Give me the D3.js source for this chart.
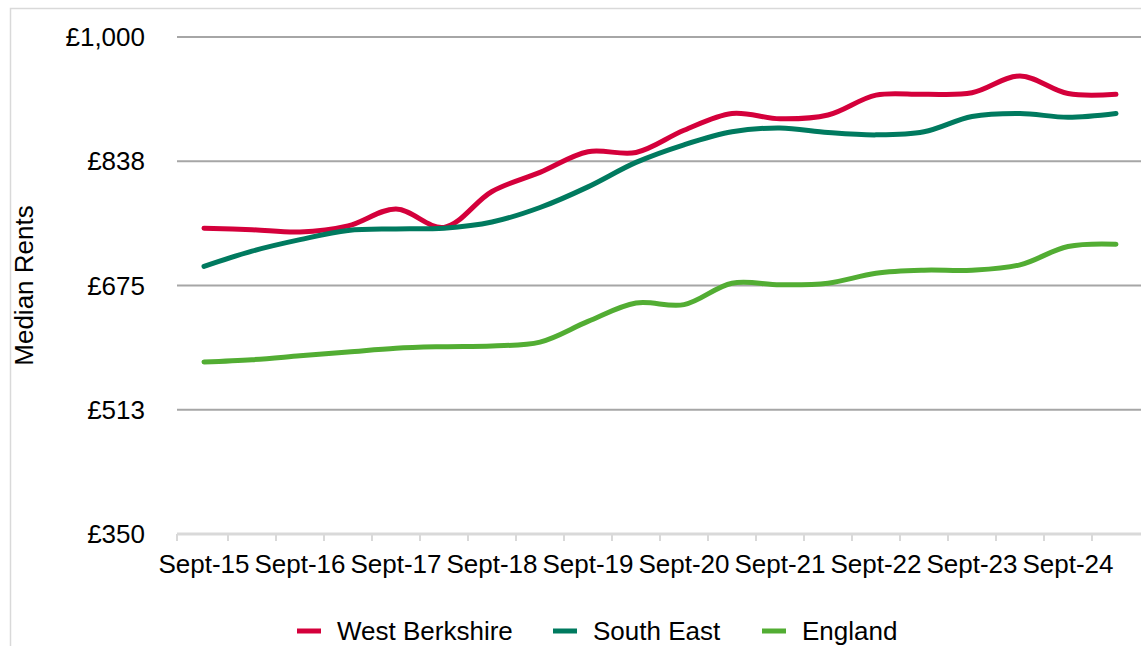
<!DOCTYPE html>
<html>
<head>
    <meta charset="utf-8">
    <script src="https://cdnjs.cloudflare.com/ajax/libs/d3/7.8.5/d3.min.js" type="text/javascript"></script>
    <style>
        body { margin: 0; background: #fff; }
        text { font-family: "Liberation Sans", Arial, sans-serif; fill: #000; }
    </style>
</head>
<body>
    <div id="viz"></div>
    <script type="text/javascript">

    // half-yearly periods, only the Sept ones get a label
    var periods = ["Sept-15", "Mar-16", "Sept-16", "Mar-17", "Sept-17", "Mar-18", "Sept-18", "Mar-19",
                   "Sept-19", "Mar-20", "Sept-20", "Mar-21", "Sept-21", "Mar-22", "Sept-22", "Mar-23",
                   "Sept-23", "Mar-24", "Sept-24", "Mar-25"];
    var tickLabels = ["Sept-15", "Sept-16", "Sept-17", "Sept-18", "Sept-19",
                      "Sept-20", "Sept-21", "Sept-22", "Sept-23", "Sept-24"];
    var yTicks = [350, 512.5, 675, 837.5, 1000];

    var westBerkshire = [750, 748, 745, 753, 775, 751, 798, 823, 850, 849,
                         878, 900, 893, 898, 924, 925, 927, 949, 926, 925];
    var southEast = [700, 720, 735, 747, 749, 750, 758, 777, 804, 836,
                     859, 876, 881, 875, 872, 876, 896, 900, 895, 900];
    var england = [575, 578, 583, 588, 593, 595, 596, 601, 628, 652,
                   650, 678, 676, 678, 691, 695, 695, 702, 726, 729];

    var seriesNames = ["West Berkshire", "South East", "England"];
    var seriesColors = ["#d4003b", "#007a5f", "#52ad33"];
    var seriesData = [westBerkshire, southEast, england];

    var width = 1141, height = 646;

    var svg = d3.select("#viz")
        .append("svg")
        .attr("width", width)
        .attr("height", height);

    // outer frame of the chart
    svg.append("path")
        .attr("d", "M10.5," + height + "V8.5H" + width)
        .style("fill", "none")
        .style("stroke", "#d9d9d9")
        .style("stroke-width", 1.5);

    var x = d3.scaleBand()
        .domain(periods)
        .range([180, 1140])
        .padding(0);

    var y = d3.scaleLinear()
        .domain([350, 1000])
        .range([534, 37]);

    // gridlines
    svg.append("g")
        .selectAll("line")
        .data(yTicks.slice(1))
        .enter()
        .append("line")
        .attr("x1", 177)
        .attr("x2", width)
        .attr("y1", function(d) { return y(d); })
        .attr("y2", function(d) { return y(d); })
        .style("stroke", "#a6a6a6")
        .style("stroke-width", 2);

    // y tick labels
    var fmt = d3.format(",.0f");
    svg.append("g")
        .selectAll("text")
        .data(yTicks)
        .enter()
        .append("text")
        .attr("x", 145)
        .attr("y", function(d) { return y(d); })
        .attr("dy", "0.35em")
        .attr("text-anchor", "end")
        .style("font-size", "26px")
        .text(function(d) { return "£" + fmt(d); });

    svg.append("text")
        .attr("transform", "translate(33," + y(675) + ") rotate(-90)")
        .attr("text-anchor", "middle")
        .style("font-size", "26px")
        .text("Median Rents");

    // x axis line with a tick at every period boundary
    svg.append("line")
        .attr("x1", 177)
        .attr("x2", width)
        .attr("y1", y(350))
        .attr("y2", y(350))
        .style("stroke", "#d9d9d9")
        .style("stroke-width", 3);

    var bounds = periods.map(function(p) { return x(p); });
    bounds[0] = 177;
    svg.append("g")
        .selectAll("line")
        .data(bounds)
        .enter()
        .append("line")
        .attr("x1", function(d) { return d; })
        .attr("x2", function(d) { return d; })
        .attr("y1", y(350))
        .attr("y2", y(350) + 7)
        .style("stroke", "#d9d9d9")
        .style("stroke-width", 2);

    svg.append("g")
        .selectAll("text")
        .data(tickLabels)
        .enter()
        .append("text")
        .attr("x", function(d) { return x(d) + x.bandwidth() / 2; })
        .attr("y", 573)
        .attr("text-anchor", "middle")
        .style("font-size", "26px")
        .text(function(d) { return d; });

    // the three smoothed lines
    var line = d3.line()
        .x(function(d, i) { return x(periods[i]) + x.bandwidth() / 2; })
        .y(function(d) { return y(d); })
        .curve(d3.curveCatmullRom.alpha(0.5));

    svg.append("g")
        .selectAll("path")
        .data(seriesData)
        .enter()
        .append("path")
        .attr("d", function(d) { return line(d); })
        .style("fill", "none")
        .style("stroke", function(d, i) { return seriesColors[i]; })
        .style("stroke-width", 5)
        .style("stroke-linecap", "round")
        .style("stroke-linejoin", "round");

    // legend, kept just inside the bottom edge
    var legendX = [297, 553, 762];
    var legend = svg.append("g")
        .selectAll("g")
        .data(seriesNames)
        .enter()
        .append("g")
        .attr("transform", function(d, i) { return "translate(" + legendX[i] + ",631)"; });

    legend.append("line")
        .attr("x1", 0)
        .attr("x2", 24)
        .style("stroke", function(d, i) { return seriesColors[i]; })
        .style("stroke-width", 5);

    legend.append("text")
        .attr("x", 40)
        .attr("y", 9)
        .style("font-size", "26px")
        .text(function(d) { return d; });

    </script>
</body>
</html>
